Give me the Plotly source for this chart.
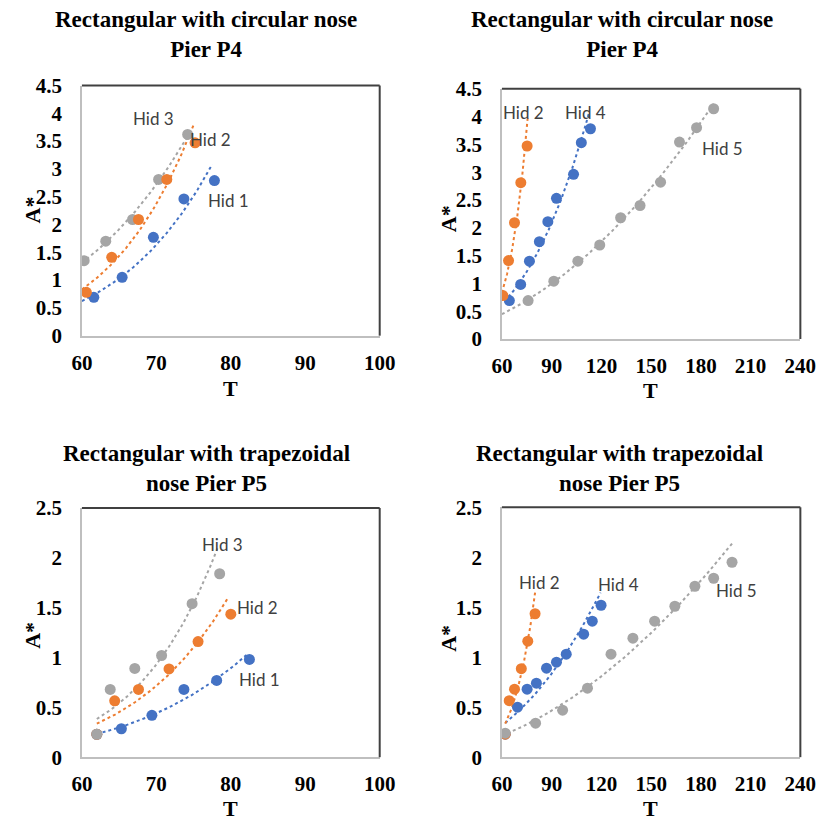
import numpy as np
import plotly.graph_objects as go

# ---- Pier P4 (rectangular with circular nose): flow time T vs scour A* ----
p4_hid1_t = [61.6, 65.4, 69.6, 73.7, 77.8]
p4_hid1_a = [0.69, 1.05, 1.77, 2.46, 2.79]
p4_hid2_t = [60.6, 64.0, 67.6, 71.4, 75.2]
p4_hid2_a = [0.78, 1.41, 2.09, 2.81, 3.47]
p4_hid3_t = [60.3, 63.2, 66.8, 70.3, 74.2]
p4_hid3_a = [1.35, 1.70, 2.09, 2.81, 3.62]
p4_hid4_t = [64.5, 71.3, 76.6, 82.6, 87.7, 92.9, 103.2, 107.9, 113.4]
p4_hid4_a = [0.69, 0.98, 1.40, 1.75, 2.11, 2.53, 2.96, 3.53, 3.78]
p4_hid5_t = [75.8, 91.3, 105.8, 119.0, 131.6, 143.3, 155.7, 167.1, 177.4, 187.7]
p4_hid5_a = [0.69, 1.04, 1.40, 1.69, 2.18, 2.40, 2.82, 3.54, 3.80, 4.14]

# ---- Pier P5 (rectangular with trapezoidal nose) ----
p5_hid1_t = [62.0, 65.3, 69.4, 73.7, 78.1, 82.5]
p5_hid1_a = [0.23, 0.285, 0.42, 0.68, 0.77, 0.98]
p5_hid2_t = [62.0, 64.4, 67.6, 71.7, 75.6, 80.0]
p5_hid2_a = [0.23, 0.565, 0.68, 0.885, 1.16, 1.435]
p5_hid3_t = [62.0, 63.8, 67.1, 70.7, 74.8, 78.5]
p5_hid3_a = [0.23, 0.68, 0.89, 1.02, 1.54, 1.84]
p5_hid4_t = [62.0, 69.4, 75.2, 80.8, 86.9, 92.9, 98.8, 109.3, 114.5, 119.8]
p5_hid4_a = [0.23, 0.50, 0.68, 0.74, 0.89, 0.95, 1.03, 1.23, 1.36, 1.52]
p5_hid5_t = [62.0, 80.3, 96.6, 111.6, 125.8, 139.0, 152.1, 164.3, 176.4, 187.7, 198.8]
p5_hid5_a = [0.24, 0.34, 0.47, 0.69, 1.03, 1.19, 1.36, 1.51, 1.71, 1.79, 1.95]

# axis settings per panel
x_ranges = [[60, 100], [60, 240], [60, 100], [60, 240]]
x_dticks = [10, 30, 10, 30]
y_ranges = [[0, 4.5], [0, 4.5], [0, 2.5], [0, 2.5]]
y_dticks = [0.5, 0.5, 0.5, 0.5]
panel_titles = [
    "Rectangular with circular nose<br>Pier P4",
    "Rectangular with circular nose<br>Pier P4",
    "Rectangular with trapezoidal<br>nose Pier P5",
    "Rectangular with trapezoidal<br>nose Pier P5",
]

BLUE, ORANGE, GRAY = "#4472C4", "#ED7D31", "#A5A5A5"

# (panel, name, T, A, colour, trend start, trend end, label T, label A)
series = [
    (0, "Hid 1", p4_hid1_t, p4_hid1_a, BLUE, 60.0, 77.5, 79.7, 2.43),
    (0, "Hid 3", p4_hid3_t, p4_hid3_a, GRAY, 60.0, 74.3, 69.6, 3.91),
    (0, "Hid 2", p4_hid2_t, p4_hid2_a, ORANGE, 60.0, 75.1, 77.3, 3.53),
    (1, "Hid 4", p4_hid4_t, p4_hid4_a, BLUE, 61.6, 112.7, 110.6, 4.07),
    (1, "Hid 2", p4_hid2_t, p4_hid2_a, ORANGE, 60.0, 75.5, 72.8, 4.07),
    (1, "Hid 5", p4_hid5_t, p4_hid5_a, GRAY, 60.0, 187.7, 192.9, 3.43),
    (2, "Hid 1", p5_hid1_t, p5_hid1_a, BLUE, 62.0, 82.3, 83.9, 0.78),
    (2, "Hid 2", p5_hid2_t, p5_hid2_a, ORANGE, 62.0, 79.6, 83.6, 1.50),
    (2, "Hid 3", p5_hid3_t, p5_hid3_a, GRAY, 62.0, 78.2, 78.9, 2.13),
    (3, "Hid 4", p5_hid4_t, p5_hid4_a, BLUE, 62.0, 119.5, 130.1, 1.73),
    (3, "Hid 2", p5_hid2_t, p5_hid2_a, ORANGE, 62.0, 80.0, 82.6, 1.745),
    (3, "Hid 5", p5_hid5_t, p5_hid5_a, GRAY, 60.0, 198.8, 201.7, 1.67),
]

W, H = 836, 832
# plot boxes in pixels: left, right, top, bottom
boxes = [
    (73.3, 381.0, 75.7, 333.3),
    (507.3, 815.7, 79.0, 336.7),
    (73.3, 381.0, 510.7, 767.3),
    (507.3, 815.7, 510.0, 767.3),
]
title_pos = [(202, 23), (631, 23), (202, 470), (629, 470)]
xlabel_pos = [(227, 388), (661, 390), (227, 820), (661, 820)]
ylabel_pos = [(22, 204), (452, 213), (22, 642), (452, 645)]


def power_trend(t, a, t0, t1):
    """Least-squares power trendline A = k * T^b evaluated on [t0, t1]."""
    b, ln_k = np.polyfit(np.log(t), np.log(a), 1)
    tt = np.linspace(t0, t1, 80)
    return tt, np.exp(ln_k) * tt ** b


fig = go.Figure()
annotations = []
shapes = []
SERIF = "Liberation Serif"

for i, (l, r, t, b) in enumerate(boxes):
    sfx = "" if i == 0 else str(i + 1)
    fig.layout["xaxis" + sfx] = dict(
        domain=[l / W, r / W], anchor="y" + sfx, range=x_ranges[i],
        dtick=x_dticks[i], tick0=60, showgrid=False, zeroline=False,
        showline=True, linecolor="#BFBFBF", linewidth=1.5,
        ticks="", ticklabelstandoff=7,
        tickfont=dict(family=SERIF, size=21, color="#000000", weight="bold"),
    )
    fig.layout["yaxis" + sfx] = dict(
        domain=[1 - b / H, 1 - t / H], anchor="x" + sfx, range=y_ranges[i],
        dtick=y_dticks[i], tick0=0, showgrid=False, zeroline=False,
        showline=True, linecolor="#BFBFBF", linewidth=1.5,
        ticks="", ticklabelstandoff=14,
        tickfont=dict(family=SERIF, size=21, color="#000000", weight="bold"),
    )
    xr = "x" + sfx + " domain"
    yr = "y" + sfx + " domain"
    shapes.append(dict(type="line", xref=xr, yref=yr, x0=0, x1=1, y0=1, y1=1,
                       line=dict(color="#404040", width=2)))
    shapes.append(dict(type="line", xref=xr, yref=yr, x0=1, x1=1, y0=0, y1=1,
                       line=dict(color="#404040", width=2)))

    tx, ty = title_pos[i]
    annotations.append(dict(
        text=panel_titles[i], xref="paper", yref="paper", x=tx / W, y=1 - ty / H,
        xanchor="center", yanchor="middle", showarrow=False,
        font=dict(family=SERIF, size=23, color="#000000", weight="bold")))
    lx, ly = xlabel_pos[i]
    annotations.append(dict(
        text="T", xref="paper", yref="paper", x=lx / W, y=1 - ly / H,
        xanchor="center", yanchor="middle", showarrow=False,
        font=dict(family=SERIF, size=22, color="#000000", weight="bold")))
    ax_, ay_ = ylabel_pos[i]
    annotations.append(dict(
        text="A*", xref="paper", yref="paper", x=ax_ / W, y=1 - ay_ / H,
        xanchor="center", yanchor="middle", showarrow=False, textangle=-90,
        font=dict(family=SERIF, size=22, color="#000000", weight="bold")))

for (p, name, t, a, col, t0, t1, lt, la) in series:
    sfx = "" if p == 0 else str(p + 1)
    tt, aa = power_trend(t, a, t0, t1)
    fig.add_trace(go.Scatter(
        x=tt, y=aa, mode="lines", xaxis="x" + sfx, yaxis="y" + sfx,
        line=dict(color=col, width=2, dash="dot"), showlegend=False,
        hoverinfo="skip"))
for (p, name, t, a, col, t0, t1, lt, la) in series:
    sfx = "" if p == 0 else str(p + 1)
    fig.add_trace(go.Scatter(
        x=t, y=a, mode="markers", name=name, xaxis="x" + sfx, yaxis="y" + sfx,
        marker=dict(color=col, size=11), showlegend=False))
    annotations.append(dict(
        text=name, xref="x" + sfx, yref="y" + sfx, x=lt, y=la,
        xanchor="center", yanchor="middle", showarrow=False,
        font=dict(family="Lato", size=17, color="#404040")))

fig.update_layout(
    width=W, height=H, margin=dict(l=0, r=0, t=0, b=0),
    paper_bgcolor="white", plot_bgcolor="white",
    annotations=annotations, shapes=shapes, showlegend=False,
)

fig.write_html("out.html")
